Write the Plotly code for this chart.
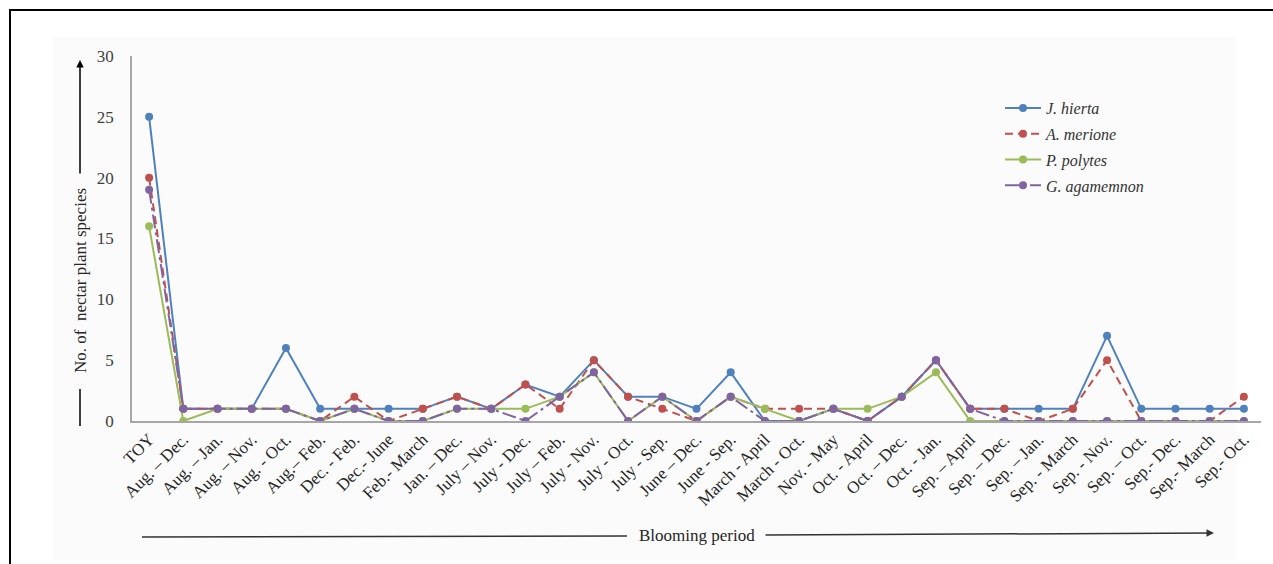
import plotly.graph_objects as go

categories = ["TOY", "Aug. – Dec.", "Aug. – Jan.", "Aug. – Nov.", "Aug. - Oct.", "Aug.– Feb.",
              "Dec. - Feb.", "Dec.- June", "Feb.- March", "Jan. – Dec.", "July – Nov.", "July - Dec.",
              "July – Feb.", "July - Nov.", "July - Oct.", "July - Sep.", "June – Dec.", "June - Sep.",
              "March - April", "March - Oct.", "Nov. - May", "Oct. - April", "Oct. – Dec.", "Oct. - Jan.",
              "Sep. – April", "Sep. – Dec.", "Sep. – Jan.", "Sep. - March", "Sep. - Nov.", "Sep. – Oct.",
              "Sep.- Dec.", "Sep.- March", "Sep.- Oct."]

j_hierta = [25, 1, 1, 1, 6, 1, 1, 1, 1, 2, 1, 3, 2, 5, 2, 2, 1, 4, 0, 0, 1, 0, 2, 5, 1, 1, 1, 1, 7, 1, 1, 1, 1]
a_merione = [20, 1, 1, 1, 1, 0, 2, 0, 1, 2, 1, 3, 1, 5, 2, 1, 0, 2, 1, 1, 1, 0, 2, 5, 1, 1, 0, 1, 5, 0, 0, 0, 2]
p_polytes = [16, 0, 1, 1, 1, 0, 1, 0, 0, 1, 1, 1, 2, 4, 0, 2, 0, 2, 1, 0, 1, 1, 2, 4, 0, 0, 0, 0, 0, 0, 0, 0, 0]
g_agamemnon = [19, 1, 1, 1, 1, 0, 1, 0, 0, 1, 1, 0, 2, 4, 0, 2, 0, 2, 0, 0, 1, 0, 2, 5, 1, 0, 0, 0, 0, 0, 0, 0, 0]

series = [
    ("J. hierta", j_hierta, "#4F81BD", "solid"),
    ("A. merione", a_merione, "#C0504D", "8px,5px"),
    ("P. polytes", p_polytes, "#9BBB59", "solid"),
    ("G. agamemnon", g_agamemnon, "#8064A2", "14px,4px,3px,4px"),
]

SERIF = "Liberation Serif, Times New Roman, serif"
W, H = 1273, 564
L, R, T, B = 132, 1261, 56, 421


def px(x):
    return (x - L) / (R - L)


def py(y):
    return (B - y) / (B - T)


fig = go.Figure()
for i, (name, vals, col, dash) in enumerate(series):
    fig.add_trace(go.Scatter(
        x=categories, y=vals, name="<i>" + name + "</i>", mode="lines+markers",
        line=dict(color=col, width=2, dash=dash),
        marker=dict(color=col, size=8, symbol="circle"),
        legendgroup="g%d" % i,
    ))

fig.update_layout(
    width=W, height=H,
    margin=dict(l=L, r=W - R, t=T, b=H - B),
    paper_bgcolor="white",
    plot_bgcolor="rgba(0,0,0,0)",
    font=dict(family=SERIF, color="#333333"),
    showlegend=True,
    legend=dict(x=px(1000), y=py(91), xanchor="left", yanchor="top",
                bgcolor="rgba(0,0,0,0)", font=dict(family=SERIF, size=16, color="#333333"),
                tracegroupgap=2, itemwidth=36),
    xaxis=dict(type="category", range=[-0.5, len(categories) - 0.5], showgrid=False,
               showline=True, linecolor="#a6a6a6", linewidth=1.5, ticks="", tickangle=-45,
               tickfont=dict(family=SERIF, size=17, color="#262626"), zeroline=False),
    yaxis=dict(range=[0, 30], dtick=5, showgrid=False, showline=True, linecolor="#a6a6a6",
               linewidth=1.5, ticks="", ticklabelstandoff=13,
               tickfont=dict(family=SERIF, size=17, color="#404040"), zeroline=False),
)

shapes = [
    # faint inner chart area
    dict(type="rect", xref="paper", yref="paper", x0=px(53), x1=px(1236), y0=py(560), y1=py(37),
         fillcolor="#fbfbfb", line=dict(width=0), layer="below"),
    # outer black frame
    dict(type="rect", xref="paper", yref="paper", x0=px(10), x1=px(1300), y0=py(620), y1=py(10),
         line=dict(color="black", width=2), fillcolor="rgba(0,0,0,0)"),
    # y-title lower line
    dict(type="line", xref="paper", yref="paper", x0=px(80), x1=px(80), y0=py(389), y1=py(426),
         line=dict(color="black", width=1.5)),
    # x-title left line
    dict(type="line", xref="paper", yref="paper", x0=px(142), x1=px(627), y0=py(537), y1=py(536),
         line=dict(color="#333333", width=1.5)),
]
fig.update_layout(shapes=shapes)

fig.add_annotation(x=px(80), y=py(281), xref="paper", yref="paper", text="No. of  nectar plant species",
                   textangle=-90, showarrow=False, xanchor="center", yanchor="middle",
                   font=dict(family=SERIF, size=17, color="#262626"))
fig.add_annotation(x=px(80), y=py(60), xref="paper", yref="paper", text="", showarrow=True,
                   ax=0, ay=115, arrowhead=2, arrowsize=1, arrowwidth=1.5, arrowcolor="black")
fig.add_annotation(x=px(697), y=py(535), xref="paper", yref="paper", text="Blooming period",
                   showarrow=False, xanchor="center", yanchor="middle",
                   font=dict(family=SERIF, size=17, color="#262626"))
fig.add_annotation(x=px(1214), y=py(533), xref="paper", yref="paper", text="", showarrow=True,
                   ax=-450, ay=2, arrowhead=2, arrowsize=1, arrowwidth=1.5, arrowcolor="#333333")

fig.write_html("out.html", config={"displayModeBar": False},
               post_script="document.body.style.margin='0';")
